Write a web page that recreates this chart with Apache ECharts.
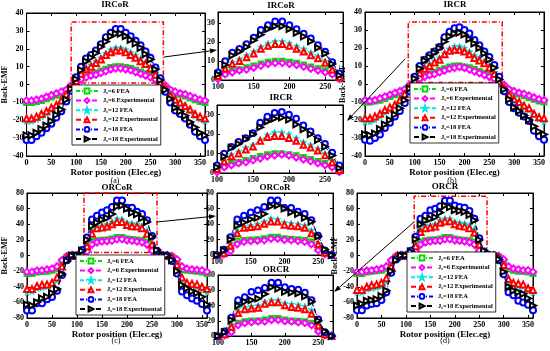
<!DOCTYPE html>
<html><head><meta charset="utf-8">
<script src="https://cdn.jsdelivr.net/npm/echarts@6/dist/echarts.min.js"></script>
<style>html,body{margin:0;padding:0;background:#fff}#c{width:550px;height:351px}</style>
</head><body><div id="c"></div>
<script>
// ---------------- DATA ----------------
const angles = [0,10,20,30,40,50,60,70,80,90,100,110,120,130,140,150,160,170,180,190,200,210,220,230,240,250,260,270,280,290,300,310,320,330,340,350,360];
const seriesNames = ['Js=6 FEA','Js=6 Experimental','Js=12 FEA','Js=12 Experimental','Js=18 FEA','Js=18 Experimental'];
const panelTitles = ['IRCoR','IRCR','ORCoR','ORCR'];
const panelLetters = ['(a)','(b)','(c)','(d)'];

// (a) IRCoR
const a_fea6  = [-10,-10,-9.5,-9,-8,-7,-6,-5,-3.5,-1, 1.5,3.5,5,5.5,6.5,7.5,8.5,9.5,10,10,9.5,9,8,7,6,5,3.5,1, -1.5,-3.5,-5,-5.5,-6.5,-7.5,-8.5,-9.5,-10];
const a_exp6  = [-9,-9,-8.5,-8,-7,-6,-5,-4,-3,-0.5, 0.5,3,4,5,5.5,6.5,7.5,8.5,9,9,8.5,8,7,6,5,4,3,0.5, -0.5,-3,-4,-5,-5.5,-6.5,-7.5,-8.5,-9];
const a_fea12 = [-20.5,-20.5,-19.5,-18,-16.5,-14.5,-12.5,-10,-6.5,-2, 2.5,6.5,9.5,11,13,15,17.5,19.5,20.5,20.5,19.5,18,16.5,14.5,12.5,10,6.5,2, -2.5,-6.5,-9.5,-11,-13,-15,-17.5,-19.5,-20.5];
const a_exp12 = [-19,-19,-18,-16.5,-15,-13,-11.5,-9,-5.5,-1.5, 2,6,8.5,10,12,14,16.5,18,19,19,18,16.5,15,13,11.5,9,5.5,1.5, -2,-6,-8.5,-10,-12,-14,-16.5,-18,-19];
const a_fea18 = [-31,-31,-29,-27,-24.5,-22,-18.5,-15,-9.5,-3.5, 4,10,14.5,16.5,19,22.5,26.5,29,31,31,29,27,24.5,22,18.5,15,9.5,3.5, -4,-10,-14.5,-16.5,-19,-22.5,-26.5,-29,-31];
const a_exp18 = [-28.5,-28.5,-27,-25,-23,-20.5,-17,-14,-8.5,-2.5, 3,8,13,15,17.5,21,24,27,28.5,28.5,27,25,23,20.5,17,14,8.5,2.5, -3,-8,-13,-15,-17.5,-21,-24,-27,-28.5];
// (b) IRCR
const b_fea6  = [-10,-10,-9.5,-9,-8,-7,-6,-5,-3.5,-1, 1.5,3.5,5,5.5,6.5,7.5,8.5,9.5,10,10,9.5,9,8,7,6,5,3.5,1, -1.5,-3.5,-5,-5.5,-6.5,-7.5,-8.5,-9.5,-10];
const b_exp6  = [-9,-9.5,-9,-8,-7,-6,-5,-4,-3,-0.5, 0.5,3,4,5,5.5,6.5,7.5,8.5,9,9.5,9,8,7,6,5,4,3,0.5, -0.5,-3,-4,-5,-5.5,-6.5,-7.5,-8.5,-9];
const b_fea12 = [-21,-21,-20,-18,-16,-14.5,-12.5,-10,-6.5,-2, 2.5,6.5,9.5,11,13,14.5,17,19.5,21,21,20,18,16,14.5,12.5,10,6.5,2, -2.5,-6.5,-9.5,-11,-13,-14.5,-17,-19.5,-21];
const b_exp12 = [-19,-19,-18,-16.5,-14.5,-13,-11.5,-9,-5.5,-1.5, 2,6,8.5,10,12,13.5,16.5,18.5,19,19,18,16.5,14.5,13,11.5,9,5.5,1.5, -2,-6,-8.5,-10,-12,-13.5,-16.5,-18.5,-19];
const b_fea18 = [-31,-31.5,-30,-28,-24.5,-21.5,-18,-15,-10.5,-4, 4,10,13.5,16,18,20.5,26,29,31,31.5,30,28,24.5,21.5,18,15,10.5,4, -4,-10,-13.5,-16,-18,-20.5,-26,-29,-31];
const b_exp18 = [-28,-28.5,-27.5,-25,-22.5,-20,-17,-13.5,-9,-2.5, 3,8.5,13,15,17.5,20,23.5,26.5,28,28.5,27.5,25,22.5,20,17,13.5,9,2.5, -3,-8.5,-13,-15,-17.5,-20,-23.5,-26.5,-28];
// (c) ORCoR
const c_fea6  = [-23,-23,-21,-20.5,-20,-19,-17,-8,-2,0, 0,2,8,18,19,19.5,20,21,23,23,21,20.5,20,19,17,8,2,0, 0,-2,-8,-18,-19,-19.5,-20,-21,-23];
const c_exp6  = [-21,-21,-19.5,-19,-18,-17,-14,-6,-1,0, 0,1,5,14,17,18,18.5,19,21,21,19.5,19,18,17,14,6,1,0, 0,-1,-5,-14,-17,-18,-18.5,-19,-21];
const c_fea12 = [-47,-46,-42,-41,-40,-38,-32,-15,-3,0, 0,3,15,35,37,38,40,43,47,46,42,41,40,38,32,15,3,0, 0,-3,-15,-35,-37,-38,-40,-43,-47];
const c_exp12 = [-43,-43,-39,-37.5,-37,-35,-28,-14,-3,0, 0,2,12,28,35,36,37,40,43,43,39,37.5,37,35,28,14,3,0, 0,-2,-12,-28,-35,-36,-37,-40,-43];
const c_fea18 = [-70.5,-70.5,-61,-61,-56,-53,-45,-25,-6,0, 0,7,23,46,51,55,58,62,70.5,70.5,61,61,56,53,45,25,6,0, 0,-7,-23,-46,-51,-55,-58,-62,-70.5];
const c_exp18 = [-63,-64,-60,-55,-53,-48,-43,-24,-7,0, 0,6,20,38,42,46,48,53,63,64,60,55,53,48,43,24,7,0, 0,-6,-20,-38,-42,-46,-48,-53,-63];
// (d) ORCR
const d_fea6  = [-23,-23,-21,-20,-19.5,-19,-17,-8,-1.5,0, 0,2,9,17,19,20,20,21,23,23,21,20,19.5,19,17,8,1.5,0, 0,-2,-9,-17,-19,-20,-20,-21,-23];
const d_exp6  = [-21,-21,-19.5,-19,-18,-17,-14,-6,-1,0, 0,1,5,14,17,18,19,19,21,21,19.5,19,18,17,14,6,1,0, 0,-1,-5,-14,-17,-18,-19,-19,-21];
const d_fea12 = [-47,-47,-43,-42,-41,-39,-34,-16,-3,0, 0,3,15,36,38,39,40,45,47,47,43,42,41,39,34,16,3,0, 0,-3,-15,-36,-38,-39,-40,-45,-47];
const d_exp12 = [-44,-44,-40,-38,-37,-35,-29,-14,-2,0, 0,2,12,30,35,36,37,42,44,44,40,38,37,35,29,14,2,0, 0,-2,-12,-30,-35,-36,-37,-42,-44];
const d_fea18 = [-70,-70,-64,-62,-61,-57,-47,-22,-5,0, 0,6,24,47,51,58,60,63,70,70,64,62,61,57,47,22,5,0, 0,-6,-24,-47,-51,-58,-60,-63,-70];
const d_exp18 = [-64,-62,-58,-57,-56,-52,-45,-20,-6,0, 0,5,21,40,45,47,49,55,64,62,58,57,56,52,45,20,6,0, 0,-5,-21,-40,-45,-47,-49,-55,-64];

const panelData = [
  [a_fea6,a_exp6,a_fea12,a_exp12,a_fea18,a_exp18],
  [b_fea6,b_exp6,b_fea12,b_exp12,b_fea18,b_exp18],
  [c_fea6,c_exp6,c_fea12,c_exp12,c_fea18,c_exp18],
  [d_fea6,d_exp6,d_fea12,d_exp12,d_fea18,d_exp18]
];
// zoom window of the insets (rotor position range)
const insetRange = [100, 270];
// ---------------- STYLE / LAYOUT ----------------
const FONT = 'Liberation Serif';
const STAR = 'path://M0,-10L2.35,-3.24L9.51,-3.09L3.8,1.24L5.88,8.09L0,4.2L-5.88,8.09L-3.8,1.24L-9.51,-3.09L-2.35,-3.24Z';
const DASHDOT = [4,2,1,2], DASH = [5,3];
const styles = [
  {color:'#00dd00', symbol:'emptyRect', dash:DASHDOT, size:5},
  {color:'#ff00ff', symbol:'emptyDiamond', dash:DASH, size:6.5},
  {color:'#00e6e6', symbol:STAR, dash:DASHDOT, size:6.5},
  {color:'#ff0000', symbol:'emptyTriangle', dash:DASH, size:6},
  {color:'#0000ff', symbol:'emptyCircle', dash:DASHDOT, size:6},
  {color:'#000000', symbol:'emptyTriangle', dash:DASH, size:6, rotate:-90}
];
// grids: 4 main panels then 4 insets
const grids = [
  {left:25, top:13, width:180, height:143},
  {left:365, top:12, width:179, height:144},
  {left:27, top:193, width:180, height:125},
  {left:357, top:193, width:176, height:125},
  {left:218, top:12, width:125, height:68},
  {left:217, top:105, width:126, height:68},
  {left:217, top:193, width:116, height:62},
  {left:218, top:275, width:115, height:61}
];
const xRanges = [[0,360],[0,360],[0,360],[0,360],[100,275],[100,275],[100,272],[100,272]];
const yRanges = [[-40,40],[-40,40],[-80,80],[-80,80],[0,36],[0,35],[0,80],[0,80]];
const xInt = [50,50,50,50,50,50,50,50];
const yInt = [10,10,20,20,10,10,20,20];
const highlight = [
  [[90,0.8],[276,35]],
  [[87,0.8],[276,34.5]],
  [[114,4],[260,80]],
  [[117,4],[266,76]]
];
const legendPos = [
  {left:72, top:85},{left:410, top:83},{left:76, top:255},{left:407, top:252}
];

const axisLabelStyle = {fontFamily:FONT, fontWeight:'bold', fontSize:8, color:'#000', margin:3};
const xAxes = [], yAxes = [], series = [];
grids.forEach((g, i) => {
  const isMain = i < 4;
  const common = {type:'value', gridIndex:i, min:xRanges[i][0], max:xRanges[i][1], interval:xInt[i]};
  xAxes.push(Object.assign({}, common, {
    position:'bottom',
    axisLine:{show:true, onZero:false, lineStyle:{color:'#000', width:1}},
    axisTick:{show:true, inside:true, length:3, lineStyle:{color:'#000'}},
    axisLabel:Object.assign({showMaxLabel: xRanges[i][1] % xInt[i] === 0 && xRanges[i][1] !== 360}, axisLabelStyle),
    splitLine:{show:false},
    name: isMain ? 'Rotor position (Elec.eg)' : '',
    nameLocation:'middle', nameGap: i < 2 ? 12 : 9,
    nameTextStyle:{fontFamily:FONT, fontWeight:'bold', fontSize:9, color:'#000'}
  }));
  xAxes.push(Object.assign({}, common, {
    position:'top', axisLine:{show:true, onZero:false, lineStyle:{color:'#000'}},
    axisTick:{show:true, inside:true, length:3, lineStyle:{color:'#000'}},
    axisLabel:{show:false}, splitLine:{show:false}
  }));
  const yc = {type:'value', gridIndex:i, min:yRanges[i][0], max:yRanges[i][1], interval:yInt[i]};
  yAxes.push(Object.assign({}, yc, {
    position:'left',
    axisLine:{show:true, onZero:false, lineStyle:{color:'#000'}},
    axisTick:{show:true, inside:true, length:3, lineStyle:{color:'#000'}},
    axisLabel:Object.assign({showMaxLabel: yRanges[i][1] % yInt[i] === 0}, axisLabelStyle),
    splitLine:{show:false},
    name: isMain ? 'Back-EMF' : '', nameLocation:'middle', nameGap: isMain ? 16 : 0, nameRotate:90,
    nameTextStyle:{fontFamily:FONT, fontWeight:'bold', fontSize:8, color:'#000'}
  }));
  yAxes.push(Object.assign({}, yc, {
    position:'right', axisLine:{show:true, onZero:false, lineStyle:{color:'#000'}},
    axisTick:{show:true, inside:true, length:3, lineStyle:{color:'#000'}},
    axisLabel:{show:false}, splitLine:{show:false}
  }));
  const p = i % 4;
  panelData[p].forEach((arr, k) => {
    const st = styles[k];
    let pts = angles.map((a, j) => [a, arr[j]]);
    if (!isMain) pts = pts.filter(d => d[0] >= insetRange[0] && d[0] <= insetRange[1]);
    const s = {
      type:'line', name:seriesNames[k], xAxisIndex:2*i, yAxisIndex:2*i, data:pts,
      symbol:st.symbol, symbolSize: isMain ? st.size : st.size*0.95, symbolRotate: st.rotate || 0,
      showAllSymbol:true, animation:false, clip:true,
      lineStyle:{color:st.color, width:1, type:st.dash},
      itemStyle:{color:st.color, borderColor:st.color, borderWidth:0.9},
      emphasis:{disabled:true}, z: 2 + k*0.1
    };
    if (isMain && k === 0) {
      const h = highlight[p];
      s.markArea = {silent:true, label:{show:false},
        itemStyle:{color:'rgba(0,0,0,0)', borderColor:'#ff0000', borderWidth:1.5, borderType:[5,2,1,2]},
        data:[[{xAxis:h[0][0], yAxis:h[0][1]},{xAxis:h[1][0], yAxis:h[1][1]}]]};
    }
    series.push(s);
  });
});

const legends = legendPos.map(pos => ({
  left:pos.left, top:pos.top, orient:'vertical', data:seriesNames, selectedMode:false,
  backgroundColor:'#fff', borderColor:'#000', borderWidth:0.8, borderRadius:0,
  padding:[2,3,2,3], itemGap:1.6, itemWidth:22, itemHeight:6, symbolRotate:'inherit',
  formatter: n => '{a|J}{b|s}{a|' + n.slice(2) + '}',
  textStyle:{fontFamily:FONT, fontWeight:'bold', fontSize:6.5, color:'#000', lineHeight:8,
    rich:{a:{fontFamily:FONT, fontWeight:'bold', fontSize:6.5, color:'#000', lineHeight:8},
          b:{fontFamily:FONT, fontWeight:'bold', fontSize:4.5, color:'#000', lineHeight:8, padding:[3,0,0,0]}}}
}));

function txt(x, y, t, size, bold) {
  return {type:'text', x:x, y:y, z:100, style:{text:t, x:0, y:0, align:'center', verticalAlign:'middle',
    font:(bold?'bold ':'') + size + 'px "' + FONT + '"', fill:'#000'}};
}
function arrow(x1, y1, x2, y2) {
  const ang = Math.atan2(y2-y1, x2-x1), L = 7, W = 2.5;
  const bx = x2 - L*Math.cos(ang), by = y2 - L*Math.sin(ang);
  const px = -Math.sin(ang)*W, py = Math.cos(ang)*W;
  return [
    {type:'line', z:100, shape:{x1:x1, y1:y1, x2:bx, y2:by}, style:{stroke:'#000', lineWidth:1}},
    {type:'polygon', z:100, shape:{points:[[x2,y2],[bx+px,by+py],[bx-px,by-py]]}, style:{fill:'#000'}}
  ];
}
const graphics = [
  txt(115, 5, panelTitles[0], 9, true), txt(455, 5, panelTitles[1], 9, true),
  txt(117, 188, panelTitles[2], 9, true), txt(445, 187, panelTitles[3], 9, true),
  txt(281, 6, panelTitles[0], 9, true), txt(281, 98, panelTitles[1], 9, true),
  txt(275, 188, panelTitles[2], 9, true), txt(276, 270, panelTitles[3], 9, true),
  txt(115, 181, panelLetters[0], 8, false), txt(452, 181, panelLetters[1], 8, false),
  txt(116, 341, panelLetters[2], 8, false), txt(445, 341, panelLetters[3], 8, false)
].concat(arrow(164,57,217,50), arrow(405,59,347,121), arrow(157,222,216,216), arrow(414,222,334,292));

const chart = echarts.init(document.getElementById('c'), null, {renderer:'canvas'});
chart.setOption({
  animation:false, backgroundColor:'#fff',
  grid: grids.map(g => Object.assign({show:true, borderColor:'#000', borderWidth:1, backgroundColor:'#fff', containLabel:false}, g)),
  xAxis:xAxes, yAxis:yAxes, series:series, legend:legends, graphic:graphics
});
</script></body></html>
